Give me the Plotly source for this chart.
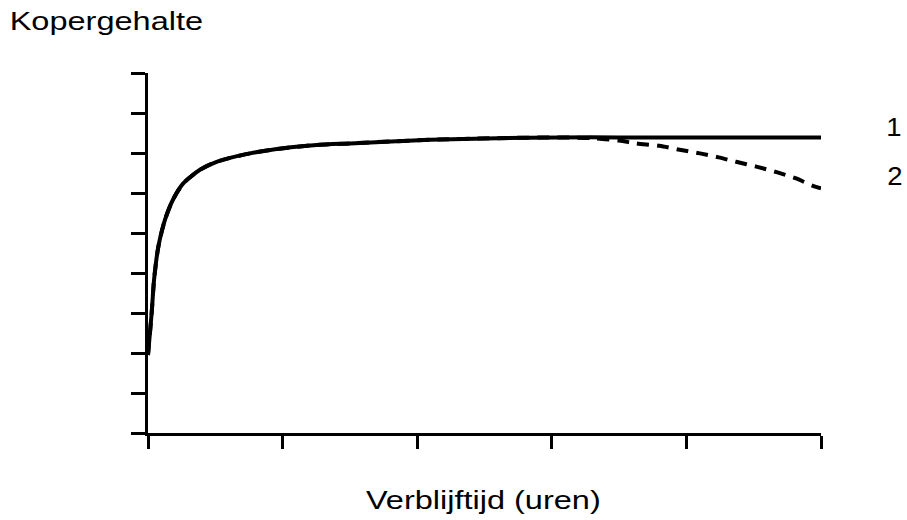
import plotly.graph_objects as go

# Residence time (hours, unlabelled axis) and copper content (arbitrary units)
time_1 = [0.0, 0.027, 0.045, 0.077, 0.126, 0.188, 0.262, 0.386, 0.51,
          0.758, 1.005, 1.253, 1.501, 2.095, 2.6, 3.06, 3.5, 4.0, 4.5, 5.0]
copper_1 = [1.95, 2.99, 3.83, 4.66, 5.33, 5.85, 6.24, 6.58, 6.78,
            6.99, 7.12, 7.2, 7.24, 7.33, 7.37, 7.39, 7.39, 7.39, 7.39, 7.39]

time_2 = [0.0, 0.027, 0.045, 0.077, 0.126, 0.188, 0.262, 0.386, 0.51,
          0.758, 1.005, 1.253, 1.501, 2.095, 2.6, 3.06, 3.3, 3.5, 3.63, 3.8,
          3.95, 4.1, 4.24, 4.37, 4.52, 4.67, 4.81, 4.94, 5.0]
copper_2 = [1.95, 2.99, 3.83, 4.66, 5.33, 5.85, 6.24, 6.58, 6.78,
            6.99, 7.12, 7.2, 7.24, 7.33, 7.37, 7.39, 7.37, 7.31, 7.24, 7.18,
            7.08, 6.99, 6.89, 6.78, 6.66, 6.52, 6.37, 6.18, 6.12]

curve_labels = ["1", "2"]
x_title = "Verblijftijd (uren)"
y_title = "Kopergehalte"

W, H = 907, 520
L, R, T, B = 148, 86, 73, 87
pw, ph = W - L - R, H - T - B


def px_x(p):
    return (p - L) / pw


def px_y(p):
    return (H - B - p) / ph


FONT = "Liberation Sans, Arial, sans-serif"

fig = go.Figure()
fig.add_trace(go.Scatter(
    x=time_2, y=copper_2, mode="lines",
    line=dict(color="black", width=4, dash="12px,8px", shape="spline", smoothing=0.7),
    cliponaxis=False, showlegend=False, hoverinfo="skip",
))
fig.add_trace(go.Scatter(
    x=time_1, y=copper_1, mode="lines",
    line=dict(color="black", width=4, shape="spline", smoothing=0.7),
    cliponaxis=False, showlegend=False, hoverinfo="skip",
))

axis_common = dict(
    showgrid=False, zeroline=False, showticklabels=False,
    showline=True, linecolor="black", linewidth=3,
    ticks="outside", tickcolor="black", tickwidth=2.5,
    tick0=0, dtick=1, fixedrange=True,
)
fig.update_xaxes(range=[0, 5], ticklen=13, **axis_common)
fig.update_yaxes(range=[0, 9], ticklen=14, **axis_common)

annotations = [
    dict(text=y_title, x=px_x(106), y=px_y(21), font=dict(size=25)),
    dict(text=x_title, x=px_x(483), y=px_y(500), font=dict(size=25)),
    dict(text=curve_labels[0], x=px_x(894), y=px_y(127), font=dict(size=25)),
    dict(text=curve_labels[1], x=px_x(895), y=px_y(176), font=dict(size=25)),
]
for a in annotations:
    a.update(xref="paper", yref="paper", showarrow=False,
             xanchor="center", yanchor="middle")
    a["font"].update(family=FONT, color="black")

fig.update_layout(
    width=W, height=H,
    margin=dict(l=L, r=R, t=T, b=B, pad=0),
    paper_bgcolor="white", plot_bgcolor="white",
    annotations=annotations,
)

# The lettering is set in a horizontally extended face: widen each label
# around its centre while keeping it as live SVG text.
widen_labels = """
var gd = document.getElementById('{plot_id}');
var factors = [1.3, 1.3, 1.1, 1.1];
gd.querySelectorAll('.annotation-text').forEach(function (t, i) {
  var w = t.getComputedTextLength();
  t.setAttribute('textLength', (w * (factors[i] || 1.3)).toFixed(1));
  t.setAttribute('lengthAdjust', 'spacingAndGlyphs');
});
"""

fig.write_html("out.html", config={"displayModeBar": False},
               post_script=widen_labels)
